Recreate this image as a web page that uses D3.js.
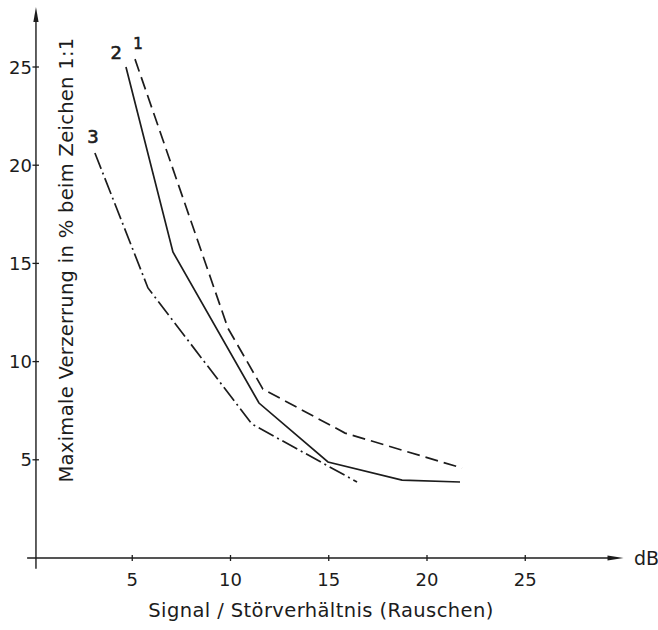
<!DOCTYPE html>
<html><head><meta charset="utf-8">
<script src="https://cdn.jsdelivr.net/npm/d3@7/dist/d3.min.js"></script>
<style>body{margin:0;background:#fff}svg{display:block}</style>
</head><body><svg id="c" width="658" height="630"></svg>
<script>
// ---- data ----
const xTicks = [5, 10, 15, 20, 25];
const yTicks = [5, 10, 15, 20, 25];
const xTickLabels = ["5", "10", "15", "20", "25"];
const yTickLabels = ["5", "10", "15", "20", "25"];
const curveNames = ["1", "2", "3"];
const curve1X = [5.14, 9.87, 11.65, 15.83, 21.78];
const curve1Y = [25.4, 11.7, 8.6, 6.36, 4.58];
const curve2X = [4.68, 7.07, 11.45, 14.96, 18.73, 21.68];
const curve2Y = [25.0, 15.58, 7.89, 4.89, 3.97, 3.87];
const curve3X = [3.10, 5.80, 11.09, 16.44];
const curve3Y = [20.62, 13.75, 6.82, 3.87];
const xTitle = "Signal / Störverhältnis (Rauschen)";
const yTitle = "Maximale Verzerrung in % beim Zeichen 1:1";
const unitLabel = "dB";

// ---- layout ----
const svg = d3.select("#c");
const ink = "#1c1c1c";
const font = "'DejaVu Sans', sans-serif";
const x = d3.scaleLinear().domain([0, 25]).range([34, 525.25]);
const y = d3.scaleLinear().domain([0, 25]).range([558, 67]);
const axisX = x(0.1);

// axes lines
svg.append("line").attr("x1", axisX).attr("x2", axisX)
  .attr("y1", y(-0.55)).attr("y2", y(27.5))
  .attr("stroke", ink).attr("stroke-width", 1.4);
svg.append("line").attr("x1", x(-0.35)).attr("x2", x(29.4))
  .attr("y1", y(0)).attr("y2", y(0))
  .attr("stroke", ink).attr("stroke-width", 1.4);
// arrows
const ty = y(28.05);
svg.append("path").attr("d", `M${axisX},${ty} L${axisX-2.6},${ty+15} L${axisX+2.6},${ty+15} Z`).attr("fill", ink);
const tx = x(30.0);
svg.append("path").attr("d", `M${tx},${y(0)} L${tx-16},${y(0)-2.6} L${tx-16},${y(0)+2.6} Z`).attr("fill", ink);

// ticks
svg.selectAll(".xt").data(xTicks).enter().append("line")
  .attr("x1", d => x(d)).attr("x2", d => x(d))
  .attr("y1", y(0) - 3).attr("y2", y(0) + 3)
  .attr("stroke", ink).attr("stroke-width", 1.3);
svg.selectAll(".yt").data(yTicks).enter().append("line")
  .attr("x1", axisX - 3.5).attr("x2", axisX + 3)
  .attr("y1", d => y(d)).attr("y2", d => y(d))
  .attr("stroke", ink).attr("stroke-width", 1.3);

// tick labels
svg.selectAll(".xl").data(xTicks).enter().append("text")
  .attr("x", d => x(d)).attr("y", y(0) + 28)
  .attr("text-anchor", "middle").attr("font-family", font).attr("font-size", 18)
  .attr("fill", ink).text((d, i) => xTickLabels[i]);
svg.selectAll(".yl").data(yTicks).enter().append("text")
  .attr("x", 32).attr("y", d => y(d) + 6.5)
  .attr("text-anchor", "end").attr("font-family", font).attr("font-size", 18)
  .attr("fill", ink).text((d, i) => yTickLabels[i]);

// titles
svg.append("text").attr("x", 321).attr("y", 617)
  .attr("text-anchor", "middle").attr("font-family", font).attr("font-size", 19.5)
  .attr("letter-spacing", 0.4)
  .attr("fill", ink).text(xTitle);
svg.append("text").attr("transform", "translate(73,260) rotate(-90)")
  .attr("text-anchor", "middle").attr("font-family", font).attr("font-size", 19.5)
  .attr("letter-spacing", 0.3)
  .attr("fill", ink).text(yTitle);
svg.append("text").attr("x", 634).attr("y", 565)
  .attr("font-family", font).attr("font-size", 19).attr("fill", ink).text(unitLabel);

// curves
const line = d3.line().x(d => x(d[0])).y(d => y(d[1]));
const series = [
  {xs: curve1X, ys: curve1Y, dash: "13,6"},
  {xs: curve2X, ys: curve2Y, dash: null},
  {xs: curve3X, ys: curve3Y, dash: "17,4,2,4"}
];
series.forEach(s => {
  const pts = s.xs.map((v, i) => [v, s.ys[i]]);
  svg.append("path").datum(pts).attr("d", line)
    .attr("fill", "none").attr("stroke", ink).attr("stroke-width", 1.7)
    .attr("stroke-dasharray", s.dash);
});

// curve labels
const labelPos = [[curve1X[0] + 0.15, curve1Y[0] + 0.5, 15], [curve2X[0] - 0.5, curve2Y[0] + 0.4, 18], [curve3X[0] - 0.1, curve3Y[0] + 0.5, 18]];
curveNames.forEach((n, i) => {
  svg.append("text").attr("x", x(labelPos[i][0])).attr("y", y(labelPos[i][1]))
    .attr("text-anchor", "middle").attr("font-family", font).attr("font-size", labelPos[i][2])
    .attr("stroke", ink).attr("stroke-width", 0.6)
    .attr("fill", ink).text(n);
});
</script></body></html>
